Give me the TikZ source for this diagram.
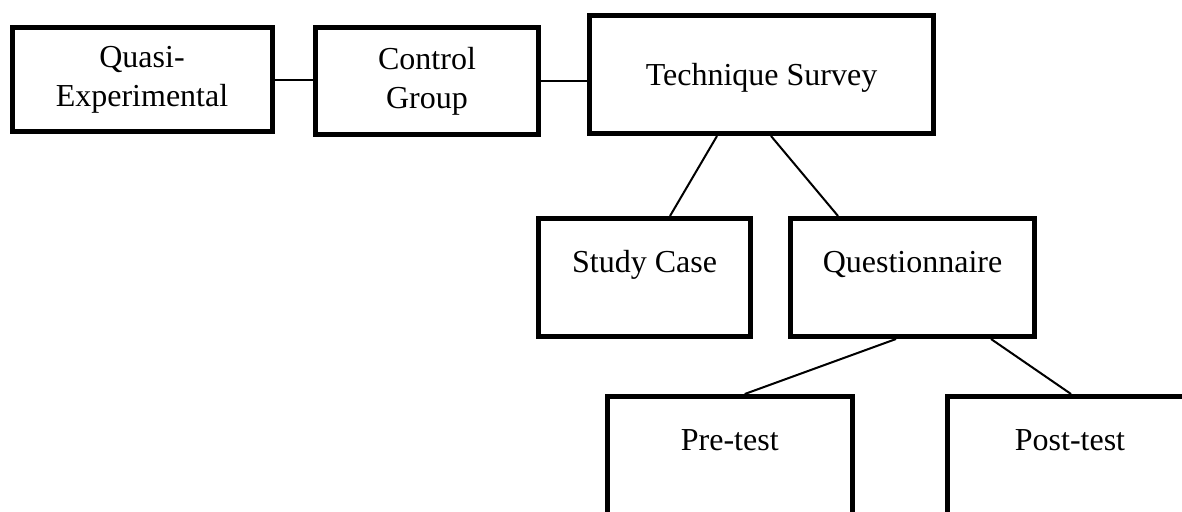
\documentclass[tikz,border=0pt]{standalone}
\usepackage{fontspec}
\setmainfont{Liberation Serif}

\begin{document}
\begin{tikzpicture}[x=1pt, y=-1pt, line width=2pt,
  box/.style={draw, line width=5pt, inner sep=0pt, align=center,
    font=\fontsize{32}{39}\selectfont},
  highbox/.style={box, text height=54pt, text depth=64pt}]
  \useasboundingbox (0,0) rectangle (1182,511);
  \node [box, minimum width=260pt, minimum height=104pt] (quasi) at (142,79.5) {Quasi-\\Experimental};
  \node [box, minimum width=223pt, minimum height=107pt] (control) at (427,81) {Control\\Group};
  \node [box, minimum width=344pt, text height=69.5pt, text depth=48.5pt] (tech) at (761.5,74.5) {Technique Survey};
  \node [highbox, minimum width=212pt] (study) at (644.5,277.5) {Study Case};
  \node [highbox, minimum width=244pt] (quest) at (912.5,277.5) {Questionnaire};
  \node [highbox, minimum width=245pt] (pre) at (729.75,455.5) {Pre-test};
  \node [highbox, minimum width=245pt] (post) at (1070,455.5) {Post-test};
  \draw (quasi.east) -- (quasi.east -| control.west);
  \draw (control.east) -- (control.east -| tech.west);
  \draw ([xshift=-44.5pt]tech.south) -- ([xshift=25.5pt]study.north);
  \draw ([xshift=9.5pt]tech.south) -- ([xshift=-74.5pt]quest.north);
  \draw ([xshift=-16.5pt]quest.south) -- ([xshift=15pt]pre.north);
  \draw ([xshift=78.5pt]quest.south) -- ([xshift=1pt]post.north);
\end{tikzpicture}
\end{document}
